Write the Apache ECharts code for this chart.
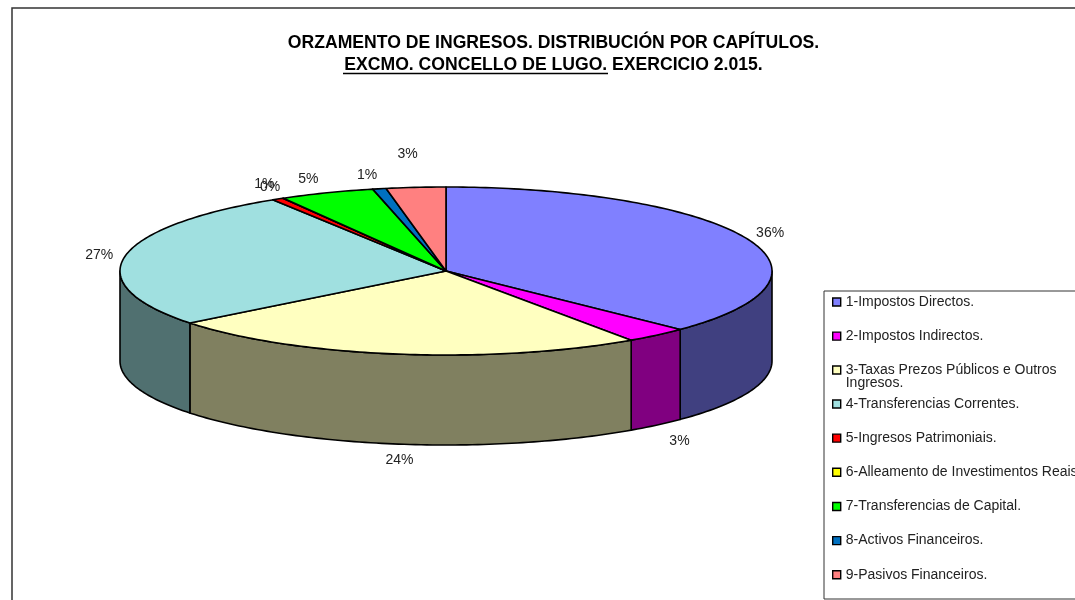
<!DOCTYPE html>
<html>
<head>
<meta charset="utf-8">
<script src="https://cdn.jsdelivr.net/npm/echarts@6/dist/echarts.min.js"></script>
<style>
  html, body { margin: 0; background: #fff; }
  #chart { width: 1075px; height: 600px; }
</style>
</head>
<body>
<div id="chart"></div>
<script>
var categories = [
  '1-Impostos Directos.',
  '2-Impostos Indirectos.',
  '3-Taxas Prezos Públicos e Outros Ingresos.',
  '4-Transferencias Correntes.',
  '5-Ingresos Patrimoniais.',
  '6-Alleamento de Investimentos Reais',
  '7-Transferencias de Capital.',
  '8-Activos Financeiros.',
  '9-Pasivos Financeiros.'
];
var shares = [37.25, 3.14, 24.0, 26.7, 0.58, 0.03, 4.7, 0.67, 2.94];
// labels as printed on the chart
var percentLabels = ['36%', '3%', '24%', '27%', '1%', '0%', '5%', '1%', '3%'];

var topColors = ['#8080ff', '#ff00ff', '#ffffc0', '#a0e0e0', '#ff0000', '#ffff00', '#00ff00', '#0070c0', '#ff8080'];
var sideColors = ['#404080', '#800080', '#808060', '#507070', '#800000', '#808000', '#008000', '#003860', '#804040'];
// small hand moves for the labels that don't sit on the outer ellipse
var labelNudge = [[0, 1], [6, 4], [6, 0], [0, 1], [0, -1], [0, 3], [-9, 1], [-7, 2], [-6, -17]];

var cx = 446, cy = 271, rx = 326, ry = 84, depth = 90;

function rim(deg, dy) {
  var a = deg * Math.PI / 180;
  return [cx + rx * Math.sin(a), cy - ry * Math.cos(a) + (dy || 0)];
}

function arc(from, to, dy) {
  var pts = [];
  for (var d = from; d < to; d += 1) pts.push(rim(d, dy));
  pts.push(rim(to, dy));
  return pts;
}

var total = shares.reduce(function (a, b) { return a + b; }, 0);

function sliceRenderer(i) {
  return function (params, api) {
    var start = 0;
    for (var k = 0; k < i; k++) start += shares[k] / total * 360;
    var end = start + api.value(0) / total * 360;
    var line = { stroke: '#000', lineWidth: 1.6, lineJoin: 'round' };
    var children = [];

    // only the part of the slice facing the viewer has a wall
    var from = Math.max(start, 90), to = Math.min(end, 270);
    if (from < to) {
      children.push({
        type: 'polygon',
        shape: { points: arc(from, to, 0).concat(arc(from, to, depth).reverse()) },
        style: Object.assign({ fill: sideColors[i] }, line)
      });
    }
    children.push({
      type: 'polygon',
      shape: { points: [[cx, cy]].concat(arc(start, end, 0)) },
      style: Object.assign({ fill: topColors[i] }, line)
    });

    var mid = (start + end) / 2;
    var a = mid * Math.PI / 180;
    var lx = cx + (rx + 26) * Math.sin(a) + labelNudge[i][0];
    var ly = cy - (ry + 16) * Math.cos(a) + (Math.cos(a) < 0 ? depth : 0) + labelNudge[i][1];
    children.push({
      type: 'text',
      style: {
        text: percentLabels[i], x: lx, y: ly,
        textAlign: 'center', textVerticalAlign: 'middle',
        font: '14px "Liberation Sans"', fill: '#222'
      }
    });
    return { type: 'group', children: children };
  };
}

var series = categories.map(function (name, i) {
  return {
    type: 'custom',
    name: name,
    coordinateSystem: 'none',
    itemStyle: { color: topColors[i] },
    data: [shares[i]],
    renderItem: sliceRenderer(i),
    animation: false
  };
});

function legendBlock(names, top, extra) {
  return Object.assign({
    data: names,
    orient: 'vertical',
    left: 832,
    top: top,
    padding: 0,
    itemWidth: 8,
    itemHeight: 8,
    itemGap: 18.15,
    icon: 'rect',
    selectedMode: false,
    itemStyle: { borderColor: '#000', borderWidth: 1.4 },
    textStyle: { color: '#222', fontFamily: 'Liberation Sans', fontSize: 14, lineHeight: 16 }
  }, extra || {});
}

var option = {
  animation: false,
  backgroundColor: '#fff',
  title: {
    text: 'ORZAMENTO DE INGRESOS. DISTRIBUCIÓN POR CAPÍTULOS.\nEXCMO. CONCELLO DE LUGO. EXERCICIO 2.015.',
    left: 553.5,
    textAlign: 'center',
    top: 32,
    padding: 0,
    textStyle: { color: '#000', fontFamily: 'Liberation Sans', fontWeight: 'bold', fontSize: 17.6, lineHeight: 22 }
  },
  legend: [
    legendBlock(categories.slice(0, 2), 294),
    // blank first line keeps the symbol level with the first text line
    legendBlock([categories[2]], 350, {
      formatter: function () { return ' \n3-Taxas Prezos Públicos e Outros\nIngresos.'; },
      textStyle: { color: '#222', fontFamily: 'Liberation Sans', fontSize: 14, lineHeight: 13 }
    }),
    legendBlock(categories.slice(3), 396, { height: 204 })
  ],
  graphic: [
    { type: 'polyline', z: -1, silent: true, shape: { points: [[12, 600], [12, 8], [1075, 8]] }, style: { stroke: '#333', lineWidth: 1.5, fill: 'none' } },
    { type: 'rect', z: -1, silent: true, shape: { x: 824, y: 291, width: 260, height: 308 }, style: { fill: '#fff', stroke: '#333', lineWidth: 1 } },
    { type: 'line', silent: true, shape: { x1: 343, y1: 73.5, x2: 608, y2: 73.5 }, style: { stroke: '#000', lineWidth: 1.5 } }
  ],
  series: series
};

var chart = echarts.init(document.getElementById('chart'), null, { renderer: 'canvas' });
chart.setOption(option);
</script>
</body>
</html>
